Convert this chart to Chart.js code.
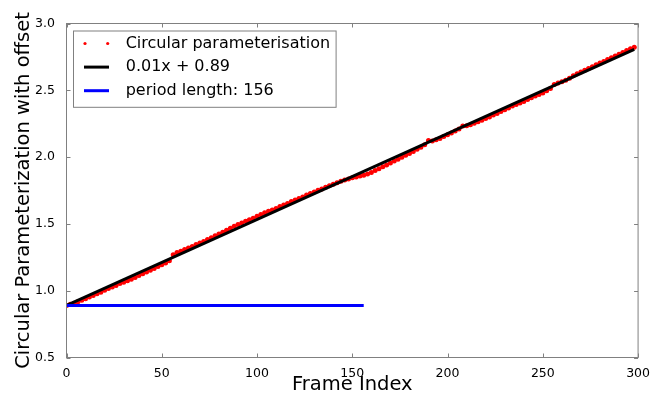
<!DOCTYPE html>
<html>
<head>
<meta charset="utf-8">
<title>Circular parameterisation</title>
<script src="https://cdn.jsdelivr.net/npm/chart.js@4/dist/chart.umd.min.js"></script>
<style>
  html, body { margin: 0; padding: 0; background: #fff; }
</style>
</head>
<body>
<canvas id="chart" width="651" height="397"></canvas>
<script>
// values, one every 2 frames (frame 0 .. 298)
const frameStep = 2;
const circularParam = [
  0.890, 0.898, 0.906, 0.917, 0.928, 0.939, 0.953, 0.964, 0.978, 0.989,
  1.003, 1.016, 1.027, 1.039, 1.053, 1.064, 1.074, 1.085, 1.099, 1.114,
  1.126, 1.140, 1.154, 1.166, 1.181, 1.195, 1.208, 1.225, 1.270, 1.285,
  1.296, 1.308, 1.320, 1.331, 1.345, 1.357, 1.369, 1.384, 1.396, 1.411,
  1.424, 1.438, 1.452, 1.467, 1.482, 1.496, 1.507, 1.520, 1.531, 1.542,
  1.557, 1.571, 1.583, 1.594, 1.604, 1.616, 1.630, 1.641, 1.653, 1.667,
  1.679, 1.690, 1.702, 1.716, 1.727, 1.739, 1.751, 1.762, 1.775, 1.786,
  1.797, 1.808, 1.819, 1.829, 1.837, 1.845, 1.851, 1.858, 1.865, 1.874,
  1.885, 1.899, 1.913, 1.927, 1.941, 1.956, 1.970, 1.984, 1.998, 2.013,
  2.027, 2.042, 2.058, 2.074, 2.093, 2.124, 2.121, 2.129, 2.140, 2.154,
  2.168, 2.180, 2.195, 2.211, 2.233, 2.234, 2.243, 2.253, 2.264, 2.276,
  2.288, 2.301, 2.315, 2.327, 2.342, 2.354, 2.368, 2.382, 2.393, 2.405,
  2.417, 2.431, 2.445, 2.457, 2.468, 2.480, 2.496, 2.513, 2.544, 2.555,
  2.564, 2.575, 2.591, 2.608, 2.623, 2.637, 2.651, 2.663, 2.677, 2.691,
  2.704, 2.716, 2.730, 2.744, 2.756, 2.770, 2.783, 2.797, 2.811, 2.822
];

// fitted line, drawn between its two ends
const fitX = [0, 298];
const fitY = [0.89, 2.806];

// period length marker
const periodX = [0, 156];
const periodY = [0.89, 0.89];

const xTicks = [0, 50, 100, 150, 200, 250, 300];
const yTicks = [0.5, 1.0, 1.5, 2.0, 2.5, 3.0];

const FONT = '"DejaVu Sans", "Liberation Sans", sans-serif';
const FRAME = '#808080';

function toPoints(xs, ys) {
  return ys.map((y, i) => ({ x: xs[i], y: y }));
}

// frame round the plot with matplotlib style inward ticks
const frameTicks = {
  id: 'frameTicks',
  afterDatasetsDraw(chart) {
    const { ctx, chartArea: a, scales: { x, y } } = chart;
    const len = 4;
    ctx.save();
    ctx.strokeStyle = FRAME;
    ctx.lineWidth = 1;
    ctx.strokeRect(a.left, a.top, a.right - a.left, a.bottom - a.top);
    ctx.beginPath();
    xTicks.forEach(v => {
      const px = Math.round(x.getPixelForValue(v)) + 0.5;
      ctx.moveTo(px, a.bottom); ctx.lineTo(px, a.bottom - len);
      ctx.moveTo(px, a.top); ctx.lineTo(px, a.top + len);
    });
    yTicks.forEach(v => {
      const py = Math.round(y.getPixelForValue(v)) + 0.5;
      ctx.moveTo(a.left, py); ctx.lineTo(a.left + len, py);
      ctx.moveTo(a.right, py); ctx.lineTo(a.right - len, py);
    });
    ctx.stroke();
    ctx.restore();
  }
};

// legend boxed inside the upper left corner
const insetLegend = {
  id: 'insetLegend',
  afterDraw(chart) {
    const { ctx, chartArea: a } = chart;
    const items = chart.data.datasets;
    const left = a.left + 7;
    const top = a.top + 7.5;
    const rowH = 23.6;
    const textOff = 52.2;
    ctx.save();
    ctx.font = '16px ' + FONT;
    const textW = Math.max(...items.map(d => ctx.measureText(d.label).width));
    const w = textOff + textW + 6;
    const h = rowH * items.length + 5.5;
    ctx.fillStyle = '#fff';
    ctx.fillRect(left, top, w, h);
    ctx.strokeStyle = FRAME;
    ctx.lineWidth = 1;
    ctx.strokeRect(left, top, w, h);

    items.forEach((d, i) => {
      const cy = top + 12.5 + i * rowH;
      if (d.showLine) {
        ctx.strokeStyle = d.borderColor;
        ctx.lineWidth = d.borderWidth;
        ctx.beginPath();
        ctx.moveTo(left + 10.5, cy);
        ctx.lineTo(left + 35.5, cy);
        ctx.stroke();
      } else {
        ctx.fillStyle = d.backgroundColor;
        [11.5, 34.2].forEach(dx => {
          ctx.beginPath();
          ctx.arc(left + dx, cy, 1.6, 0, Math.PI * 2);
          ctx.fill();
        });
      }
      ctx.fillStyle = '#000';
      ctx.textAlign = 'left';
      ctx.textBaseline = 'middle';
      ctx.fillText(d.label, left + textOff, cy);
    });
    ctx.restore();
  }
};

const ctx = document.getElementById('chart').getContext('2d');

new Chart(ctx, {
  type: 'scatter',
  data: {
    datasets: [
      {
        label: 'Circular parameterisation',
        data: circularParam.map((v, i) => ({ x: i * frameStep, y: v })),
        showLine: false,
        backgroundColor: '#ff0000',
        borderWidth: 0,
        pointRadius: 2.5,
        pointHoverRadius: 2.5,
        order: 3
      },
      {
        label: '0.01x + 0.89',
        data: toPoints(fitX, fitY),
        showLine: true,
        borderColor: '#000000',
        borderWidth: 3,
        pointRadius: 0,
        order: 2
      },
      {
        label: 'period length: 156',
        data: toPoints(periodX, periodY),
        showLine: true,
        borderColor: '#0000ff',
        borderWidth: 3,
        pointRadius: 0,
        order: 1
      }
    ]
  },
  options: {
    responsive: false,
    animation: false,
    layout: { padding: { top: 23.5, right: 12.5, left: 0, bottom: 0 } },
    plugins: {
      legend: { display: false },
      tooltip: { enabled: false }
    },
    scales: {
      x: {
        type: 'linear',
        min: 0,
        max: 300,
        afterBuildTicks: s => { s.ticks = xTicks.map(v => ({ value: v })); },
        afterFit: s => { s.height = 39.5; },
        grid: { display: false },
        border: { display: false },
        ticks: {
          padding: 1,
          color: '#000',
          font: { family: FONT, size: 12.5 },
          maxRotation: 0,
          callback: v => String(v)
        },
        title: {
          display: true,
          text: 'Frame Index',
          color: '#000',
          font: { family: FONT, size: 19.5 },
          padding: { top: 0, bottom: 0 }
        }
      },
      y: {
        type: 'linear',
        min: 0.5,
        max: 3.0,
        afterBuildTicks: s => { s.ticks = yTicks.map(v => ({ value: v })); },
        afterFit: s => { s.width = 66.5; },
        grid: { display: false },
        border: { display: false },
        ticks: {
          padding: 3.5,
          color: '#000',
          font: { family: FONT, size: 12.5 },
          callback: v => v.toFixed(1)
        },
        title: {
          display: true,
          text: 'Circular Parameterization with offset',
          color: '#000',
          font: { family: FONT, size: 19.5 },
          padding: { top: 11.8, bottom: 0 }
        }
      }
    }
  },
  plugins: [frameTicks, insetLegend]
});
</script>
</body>
</html>
